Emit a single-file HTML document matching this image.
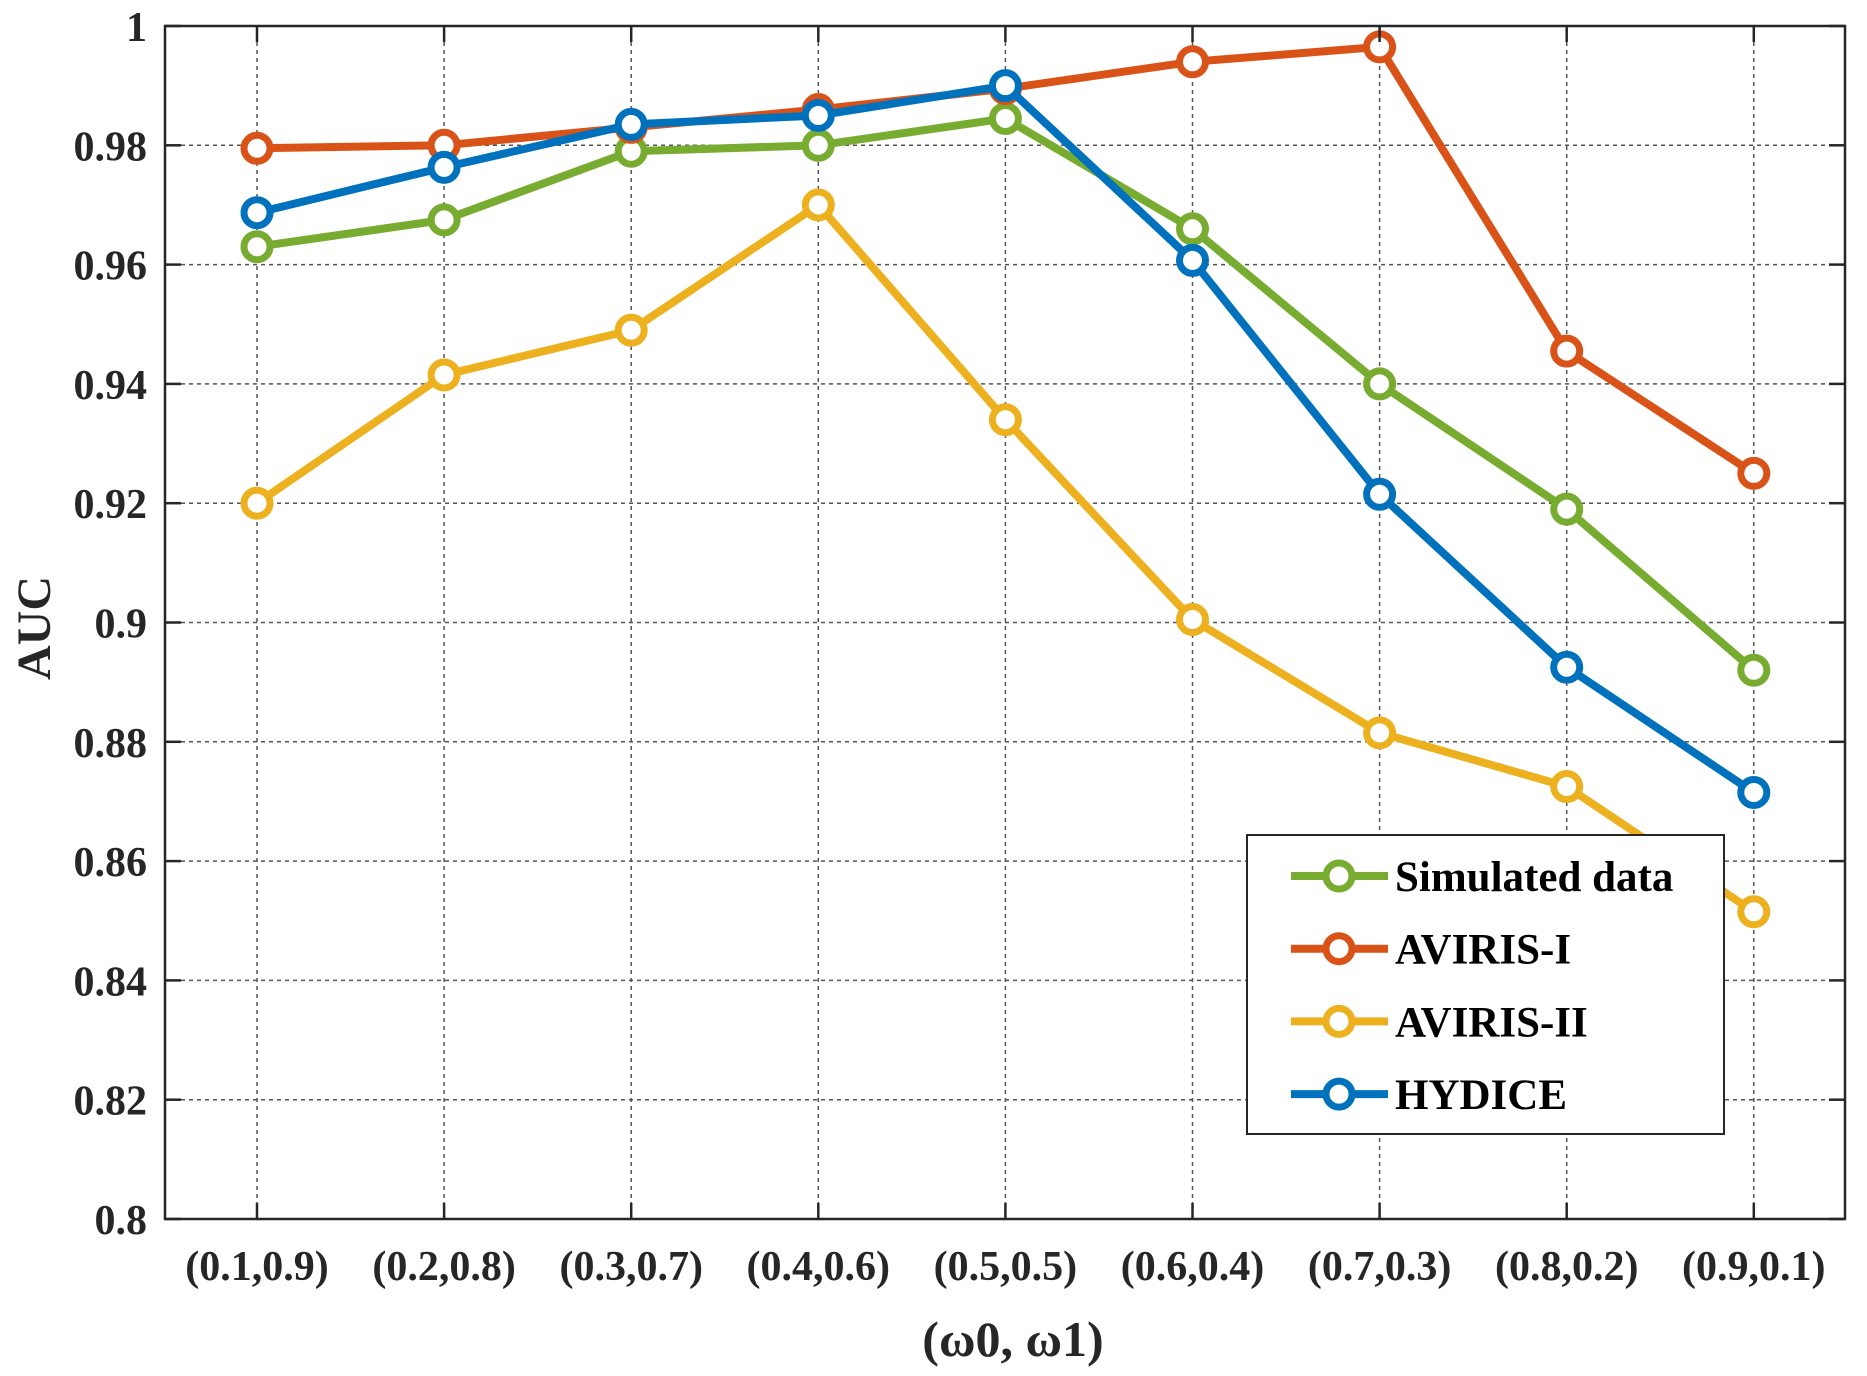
<!DOCTYPE html>
<html><head><meta charset="utf-8"><style>body{margin:0;background:#fff}</style></head>
<body>
<svg width="1867" height="1371" viewBox="0 0 1867 1371" xmlns="http://www.w3.org/2000/svg" font-family="Liberation Serif, serif" font-weight="bold">
<rect width="1867" height="1371" fill="#fff"/>
<g id="grid" stroke="#555" stroke-width="1.5" stroke-dasharray="4,4"></g>
<g id="series"></g>
<rect x="165" y="26" width="1680" height="1193" fill="none" stroke="#262626" stroke-width="2.5"/>
<g id="ticks" stroke="#262626" stroke-width="2.5"></g>
<g id="labels" fill="#262626" font-size="42"></g>
<text x="1013" y="1356" text-anchor="middle" font-size="50" fill="#262626" font-weight="bold">(ω0, ω1)</text>
<text transform="translate(50,628) rotate(-90)" text-anchor="middle" font-size="48" fill="#262626">AUC</text>
<rect x="1247" y="835" width="477" height="299" fill="#fff" stroke="#262626" stroke-width="2"/>
<g id="legend" font-size="43" fill="#000"></g>
</svg>
<script>
const ns="http://www.w3.org/2000/svg";
const X=i=>257+187.1*i, Y=v=>1219-(v-0.8)*5965;
function el(p,t,a,txt){const e=document.createElementNS(ns,t);for(const k in a)e.setAttribute(k,a[k]);if(txt!=null)e.textContent=txt;document.getElementById(p).appendChild(e);return e;}
const xl=["(0.1,0.9)","(0.2,0.8)","(0.3,0.7)","(0.4,0.6)","(0.5,0.5)","(0.6,0.4)","(0.7,0.3)","(0.8,0.2)","(0.9,0.1)"];
for(let i=0;i<9;i++){el("grid","line",{x1:X(i),x2:X(i),y1:26,y2:1219});
el("ticks","line",{x1:X(i),x2:X(i),y1:1219,y2:1203});el("ticks","line",{x1:X(i),x2:X(i),y1:26,y2:42});
el("labels","text",{x:X(i),y:1280,"text-anchor":"middle"},xl[i]);}
for(let j=0;j<=10;j++){const v=0.8+j*0.02,y=Y(v);
if(j>0&&j<10)el("grid","line",{x1:165,x2:1845,y1:y,y2:y});
el("ticks","line",{x1:165,x2:181,y1:y,y2:y});el("ticks","line",{x1:1829,x2:1845,y1:y,y2:y});
let s=j==10?"1":(j==0?"0.8":(+v.toFixed(2)).toString());
el("labels","text",{x:147,y:y+15,"text-anchor":"end"},s);}
const S=[
["#77AC30",[.963,.9675,.979,.980,.9845,.966,.940,.919,.892],"Simulated data"],
["#D95319",[.9795,.980,.983,.986,.9895,.994,.9965,.9455,.925],"AVIRIS-I"],
["#EDB120",[.920,.9415,.949,.970,.934,.9005,.8815,.8725,.8515],"AVIRIS-II"],
["#0072BD",[.9687,.9763,.9835,.985,.990,.9607,.9215,.8925,.8715],"HYDICE"]];
S.forEach(([c,d,n],k)=>{
el("series","polyline",{points:d.map((v,i)=>X(i)+","+Y(v)).join(" "),fill:"none",stroke:c,"stroke-width":8,"stroke-linejoin":"round"});
d.forEach((v,i)=>el("series","circle",{cx:X(i),cy:Y(v),r:13,fill:"#fff",stroke:c,"stroke-width":7}));
const ly=876+k*72.7;
el("legend","line",{x1:1291,x2:1388,y1:ly,y2:ly,stroke:c,"stroke-width":8});
el("legend","circle",{cx:1339,cy:ly,r:13,fill:"#fff",stroke:c,"stroke-width":7});
el("legend","text",{x:1395,y:ly+15},n);});
</script>
</body></html>
